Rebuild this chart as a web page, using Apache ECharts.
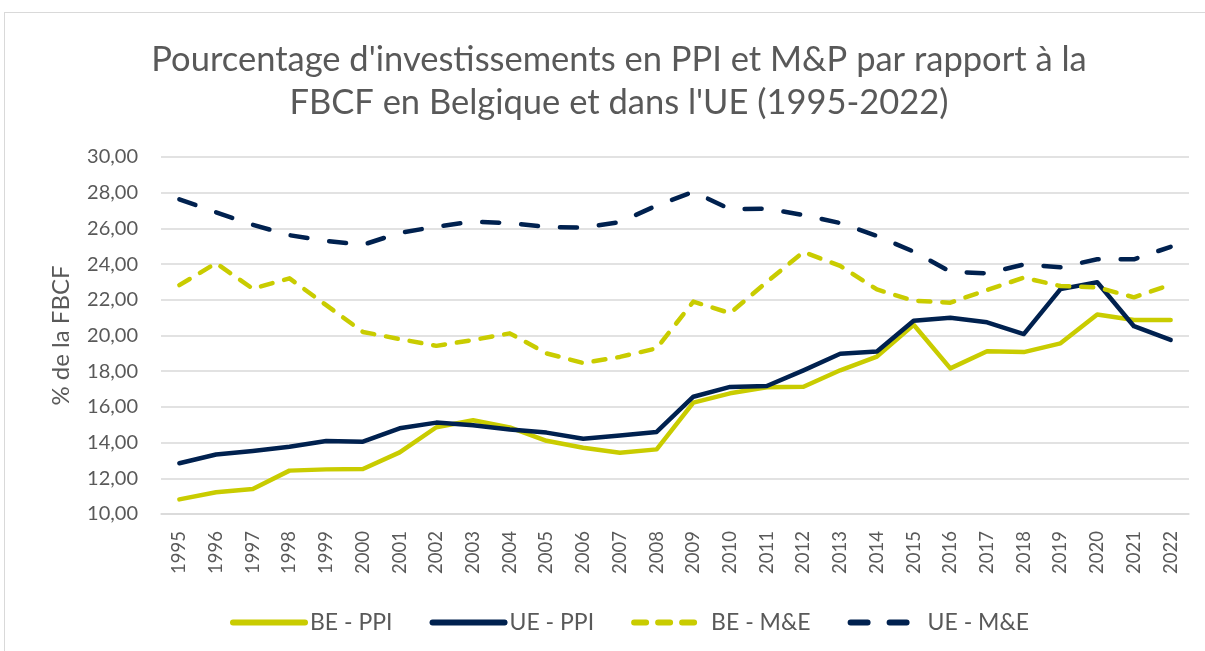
<!DOCTYPE html>
<html>
<head>
<meta charset="utf-8">
<script src="https://cdn.jsdelivr.net/npm/echarts@6/dist/echarts.min.js"></script>
<style>
  html, body { margin: 0; padding: 0; background: #fff; }
  #frame { position: absolute; left: 4px; top: 12px; width: 1210px; height: 650px; border: 1px solid #d9d9d9; box-sizing: border-box; }
  #chart { position: absolute; left: 0; top: 0; width: 1205px; height: 651px; }
</style>
</head>
<body>
<div id="frame"></div>
<div id="chart"></div>
<script>
const years = ['1995','1996','1997','1998','1999','2000','2001','2002','2003','2004','2005','2006','2007','2008','2009','2010','2011','2012','2013','2014','2015','2016','2017','2018','2019','2020','2021','2022']

const bePpi = [10.82, 11.22, 11.4, 12.43, 12.5, 12.52, 13.45, 14.86, 15.25, 14.85, 14.1, 13.71, 13.43, 13.62, 16.24, 16.76, 17.1, 17.13, 18.05, 18.82, 20.6, 18.16, 19.12, 19.07, 19.56, 21.18, 20.87, 20.87]
const uePpi = [12.84, 13.33, 13.53, 13.77, 14.09, 14.05, 14.8, 15.12, 14.97, 14.74, 14.56, 14.22, 14.4, 14.6, 16.57, 17.12, 17.17, 18.05, 18.98, 19.1, 20.83, 21.0, 20.74, 20.08, 22.6, 22.98, 20.52, 19.75]
const beMe = [22.82, 24.05, 22.62, 23.2, 21.7, 20.2, 19.8, 19.42, 19.75, 20.12, 19.0, 18.46, 18.8, 19.28, 21.9, 21.25, 23.0, 24.68, 23.9, 22.58, 21.95, 21.84, 22.55, 23.24, 22.77, 22.7, 22.14, 22.85]
const ueMe = [27.63, 26.9, 26.2, 25.62, 25.3, 25.08, 25.75, 26.1, 26.38, 26.3, 26.08, 26.05, 26.35, 27.28, 28.05, 27.08, 27.1, 26.75, 26.3, 25.58, 24.7, 23.58, 23.48, 23.98, 23.82, 24.27, 24.27, 24.97]

const yellow = '#c9cc00'
const navy = '#00214f'
const grey = '#595959'

const chart = echarts.init(document.getElementById('chart'))

const mkSeries = (name, data, color, dash) => ({
  name,
  type: 'line',
  data,
  symbol: 'none',
  lineStyle: { color, width: 4.5, type: dash || 'solid', cap: 'round', join: 'round' },
  itemStyle: { color },
  emphasis: { disabled: true },
})

chart.setOption({
  animation: false,
  textStyle: { fontFamily: 'Lato' },
  title: {
    text: "Pourcentage d'investissements en PPI et M&P par rapport à la\nFBCF en Belgique et dans l'UE (1995-2022)",
    left: 614,
    textAlign: 'center',
    top: 33,
    textStyle: { fontFamily: 'Lato', fontSize: 34.5, fontWeight: 'normal', color: grey, lineHeight: 43 },
  },
  legend: {
    left: 225,
    top: 606,
    itemWidth: 72,
    itemHeight: 14,
    itemGap: 37,
    itemStyle: { opacity: 0 },
    lineStyle: { width: 6, cap: 'round' },
    textStyle: { fontFamily: 'Lato', fontSize: 23, color: grey },
    data: ['BE - PPI', 'UE - PPI', 'BE - M&E', 'UE - M&E'],
  },
  grid: { left: 161, right: 16, top: 157, bottom: 137, containLabel: false },
  xAxis: {
    type: 'category',
    data: years,
    boundaryGap: true,
    axisLine: { lineStyle: { color: '#d9d9d9', width: 1.5 } },
    axisTick: { show: false },
    axisLabel: { rotate: 90, color: grey, fontSize: 18.5, fontFamily: 'Lato', margin: 17 },
  },
  yAxis: {
    type: 'value',
    min: 10,
    max: 30,
    interval: 2,
    name: '% de la FBCF',
    nameLocation: 'middle',
    nameGap: 88,
    nameTextStyle: { fontFamily: 'Lato', fontSize: 24, color: grey },
    axisLine: { show: false },
    axisTick: { show: false },
    splitLine: { lineStyle: { color: '#d9d9d9', width: 1.5 } },
    axisLabel: {
      color: grey,
      fontSize: 20,
      fontFamily: 'Lato',
      margin: 23,
      formatter: (v) => v.toFixed(2).replace('.', ','),
    },
  },
  series: [
    mkSeries('BE - PPI', bePpi, yellow),
    mkSeries('UE - PPI', uePpi, navy),
    mkSeries('BE - M&E', beMe, yellow, [12, 12]),
    mkSeries('UE - M&E', ueMe, navy, [17, 22]),
  ],
})
</script>
</body>
</html>
